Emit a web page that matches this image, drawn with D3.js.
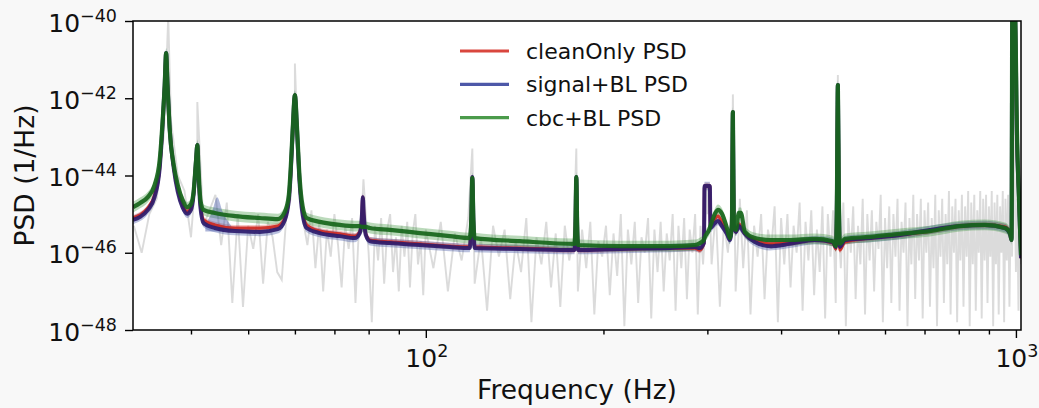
<!DOCTYPE html>
<html>
<head>
<meta charset="utf-8">
<script src="https://cdn.jsdelivr.net/npm/d3@7/dist/d3.min.js"></script>
<style>
  body { margin: 0; background: #f8f8f8; }
  svg { display: block; font-family: "DejaVu Sans", sans-serif; }
</style>
</head>
<body>
<div id="chart"></div>
<script>
// Fitted PSD curves: frequency (Hz) and log10 PSD (1/Hz)
const curveFreq = [
  31.9, 32.8, 33.8, 34.7, 35.4, 35.8, 36.1, 36.3, 36.5, 36.8,
  37.4, 38.0, 38.7, 39.4, 40.0, 40.4, 40.8, 41.0, 41.2, 41.5,
  42.0, 43.9, 47.5, 52.3, 56.1, 57.7, 58.6, 59.0, 59.5, 60.0,
  60.5, 61.0, 61.6, 62.8, 66.1, 71.5, 75.8, 77.3, 77.9, 78.2,
  78.5, 79.1, 80.4, 86.9, 97.7, 109.8, 118.7, 119.4, 119.9, 120.4,
  121.0, 144.3, 178.6, 179.3, 179.9, 180.5, 181.2, 213.3, 259.2, 285.7,
  291.4, 296.0, 296.7, 302.9, 303.6, 307.8, 312.6, 317.6, 323.8, 327.5,
  330.1, 331.4, 332.6, 335.3, 339.2, 341.9, 347.3, 361.1, 382.9, 414.0,
  456.2, 489.6, 495.4, 497.3, 499.2, 501.2, 503.1, 513.1, 565.6, 636.1,
  714.9, 803.7, 886.1, 958.2, 977.0, 983, 986, 996, 1004, 1012,
  1020
];
const cleanPsd = [
  -45.10, -45.02, -44.84, -44.50, -43.81, -42.69, -41.66, -40.88, -41.66, -42.77,
  -43.81, -44.38, -44.76, -44.94, -44.84, -44.50, -43.60, -43.21, -43.99, -44.76,
  -45.15, -45.28, -45.36, -45.36, -45.31, -45.10, -44.63, -43.99, -42.82, -41.92,
  -42.82, -43.99, -44.76, -45.28, -45.44, -45.51, -45.57, -45.46, -45.10, -44.56,
  -45.02, -45.51, -45.67, -45.72, -45.77, -45.83, -45.85, -45.15, -44.04, -45.15,
  -45.85, -45.88, -45.93, -45.28, -44.04, -45.28, -45.93, -45.90, -45.88, -45.88,
  -45.93, -45.75, -44.27, -44.27, -45.28, -45.15, -45.05, -45.20, -45.46, -45.62,
  -45.28, -42.36, -45.28, -45.46, -45.26, -45.31, -45.51, -45.67, -45.77, -45.75,
  -45.67, -45.75, -45.90, -44.63, -41.66, -44.63, -45.93, -45.72, -45.62, -45.54,
  -45.44, -45.31, -45.28, -45.33, -45.49, -45.67, -39.72, -39.72, -43.08, -44.63,
  -46.14
];
const signalPsd = [
  -45.15, -45.07, -44.89, -44.56, -43.81, -42.69, -41.66, -40.83, -41.66, -42.77,
  -43.81, -44.43, -44.82, -44.99, -44.89, -44.50, -43.60, -43.21, -43.99, -44.82,
  -45.23, -45.36, -45.44, -45.46, -45.39, -45.15, -44.63, -43.99, -42.82, -41.92,
  -42.82, -43.99, -44.82, -45.36, -45.49, -45.57, -45.62, -45.49, -45.10, -44.56,
  -45.02, -45.54, -45.70, -45.75, -45.80, -45.85, -45.88, -45.15, -44.04, -45.15,
  -45.88, -45.90, -45.93, -45.28, -44.04, -45.28, -45.93, -45.90, -45.88, -45.85,
  -45.88, -45.75, -44.27, -44.27, -45.36, -45.26, -45.18, -45.31, -45.51, -45.67,
  -45.28, -42.36, -45.28, -45.46, -45.31, -45.36, -45.51, -45.72, -45.83, -45.77,
  -45.67, -45.72, -45.85, -44.63, -41.66, -44.63, -45.85, -45.67, -45.62, -45.54,
  -45.41, -45.31, -45.28, -45.36, -45.51, -45.67, -39.72, -39.72, -43.08, -44.63,
  -46.14
];
const cbcPsd = [
  -44.82, -44.71, -44.56, -44.25, -43.60, -42.61, -41.66, -40.83, -41.66, -42.77,
  -43.73, -44.25, -44.63, -44.82, -44.74, -44.43, -43.60, -43.21, -43.86, -44.63,
  -44.89, -44.97, -45.05, -45.10, -45.13, -44.94, -44.50, -43.86, -42.77, -41.92,
  -42.77, -43.86, -44.63, -45.10, -45.20, -45.28, -45.31, -45.31, -45.33, -45.33,
  -45.33, -45.33, -45.36, -45.41, -45.49, -45.57, -45.62, -45.15, -44.06, -45.15,
  -45.62, -45.70, -45.77, -45.28, -44.04, -45.28, -45.80, -45.83, -45.83, -45.80,
  -45.75, -45.67, -45.62, -45.36, -45.31, -45.05, -44.89, -44.99, -45.36, -45.62,
  -45.28, -42.36, -45.28, -45.41, -44.97, -44.97, -45.46, -45.62, -45.67, -45.67,
  -45.64, -45.70, -45.83, -44.63, -41.66, -44.63, -45.77, -45.64, -45.59, -45.51,
  -45.44, -45.31, -45.28, -45.36, -45.49, -45.67, -39.72, -39.72, -42.82, -44.63,
  -46.06
];
// extra lump in the signal+BL interval near 44 Hz
const signalBump = [[42.3, -45.25], [43.4, -44.95], [44.3, -44.56], [45.3, -44.95], [46.8, -45.30]];

// raw periodogram (grey): sampling grids [start, stop, step] and log10 values
const rawGrid = [[32, 100, 1], [103, 298, 3], [300, 1020, 5]];
const rawLow = [
  -45.3, -46.0, -45.0, -44.6, -42.9, -42.6, -44.0, -44.4, -45.6, -43.5,
  -45.3, -44.9, -44.5, -45.8, -44.7, -47.3, -45.0, -47.4, -45.3, -45.9,
  -45.0, -46.8, -45.2, -45.6, -46.5, -46.7, -45.1, -44.6, -42.2, -44.3,
  -45.2, -45.8, -44.9, -46.4, -45.2, -47.0, -45.4, -46.1, -45.0, -45.8,
  -46.9, -45.3, -45.9, -45.1, -47.3, -45.4, -44.8, -44.9, -46.0, -47.8,
  -45.3, -46.2, -45.1, -46.8, -45.4, -45.0, -46.5, -45.6, -47.0, -45.3,
  -46.1, -45.2, -46.9, -45.5, -45.0, -46.3, -45.7, -47.1, -45.4
];
const rawMid = [
  -46.4, -45.2, -47.0, -45.5, -46.2, -45.1, -46.8, -45.6, -47.5, -45.3,
  -46.1, -45.4, -47.2, -45.7, -46.5, -45.1, -47.8, -45.6, -46.3, -45.2,
  -46.9, -45.5, -47.4, -45.3, -46.2, -45.6, -47.0, -45.4, -46.4, -45.2,
  -47.6, -45.7, -46.1, -45.3, -47.1, -45.5, -46.6, -45.0, -47.9, -45.4,
  -46.3, -45.2, -47.3, -45.6, -46.0, -45.1, -47.7, -45.4, -46.5, -45.2,
  -47.0, -45.5, -46.2, -45.0, -47.5, -45.3, -46.4, -45.1, -47.2, -45.4,
  -46.0, -45.0, -47.6, -45.3, -46.3, -45.1
];
const rawHigh = [
  -45.0, -46.3, -44.9, -47.4, -45.2, -46.0, -44.8, -47.0, -45.0, -46.4,
  -44.9, -47.6, -45.3, -46.1, -45.0, -47.2, -45.4, -45.9, -44.8, -47.8,
  -45.1, -46.3, -45.0, -46.9, -45.3, -46.0, -44.7, -47.5, -45.2, -46.2,
  -44.9, -47.1, -45.4, -46.5, -44.8, -47.7, -45.0, -46.1, -44.9, -47.3,
  -45.2, -46.4, -44.7, -47.9, -45.1, -46.0, -44.8, -47.2, -45.3, -46.3,
  -44.6, -47.6, -45.0, -46.2, -44.9, -47.0, -45.2, -45.9, -44.5, -47.8,
  -45.1, -46.4, -44.8, -47.3, -45.0, -46.1, -44.6, -47.5, -45.2, -46.0,
  -44.7, -47.9, -45.1, -46.3, -44.5, -47.2, -45.0, -46.2, -44.6, -47.7,
  -44.9, -46.0, -44.7, -47.4, -45.1, -46.4, -44.5, -47.9, -44.9, -46.1,
  -44.6, -47.3, -45.0, -46.3, -44.4, -47.6, -44.8, -46.0, -44.6, -47.8,
  -44.9, -46.2, -44.5, -47.4, -44.8, -46.1, -44.4, -47.9, -44.7, -46.3,
  -44.5, -47.5, -44.9, -46.0, -44.4, -47.7, -44.6, -46.2, -44.5, -47.3,
  -44.8, -46.1, -44.4, -47.9, -44.7, -46.3, -44.5, -47.6, -44.8, -46.0,
  -44.4, -47.8, -44.6, -46.2, -44.5, -47.4, -44.7, -46.1, -43.0, -44.0,
  -46.5, -44.6, -47.5, -45.0, -46.3
];
// narrow lines in the raw data [Hz, log10 PSD]
const rawPeaks = [
  [36.6, -39.9], [41.0, -42.1], [60.0, -41.1], [78.4, -44.1], [119.9, -43.3],
  [179.9, -43.3], [299.5, -44.2], [302.0, -44.3], [331.4, -41.9], [340.5, -44.6],
  [499.2, -41.4], [990.5, -39.9]
];

const seriesNames = ["cleanOnly PSD", "signal+BL PSD", "cbc+BL PSD"];
const xMajor = [100, 1000];
const xMinor = [40, 50, 60, 70, 80, 90, 200, 300, 400, 500, 600, 700, 800, 900];
const yTicks = [-48, -46, -44, -42, -40];

// chart specs
const w = 1039, h = 408;
const margins = { top: 21, right: 18, bottom: 78, left: 133 };
const cw = w - margins.left - margins.right;
const ch = h - margins.top - margins.bottom;

const svg = d3.select("#chart").append("svg")
  .attr("width", w)
  .attr("height", h);

svg.append("rect").attr("width", w).attr("height", h).attr("fill", "#f8f8f8");

const x = d3.scaleLog().domain([31.9, 1020]).range([0, cw]);
const y = d3.scaleLinear().domain([-48, -40]).range([ch, 0]);

const g = svg.append("g")
  .attr("transform", "translate(" + margins.left + "," + margins.top + ")");

g.append("rect").attr("width", cw).attr("height", ch).attr("fill", "white");

svg.append("defs").append("clipPath").attr("id", "plotclip")
  .append("rect").attr("width", cw).attr("height", ch);

const plot = g.append("g").attr("clip-path", "url(#plotclip)");

// raw data, merged from the grids and the line list
let raw = [];
[rawLow, rawMid, rawHigh].forEach((vals, k) => {
  const f = d3.range(rawGrid[k][0], rawGrid[k][1] + 0.001, rawGrid[k][2]);
  vals.forEach((v, i) => raw.push([f[i], v]));
});
raw = raw.concat(rawPeaks).sort((a, b) => a[0] - b[0]);

const rawLine = d3.line().x(d => x(d[0])).y(d => y(d[1]));
plot.append("path")
  .attr("d", rawLine(raw))
  .attr("fill", "none")
  .attr("stroke", "#cdcdcd")
  .attr("stroke-opacity", 0.72)
  .attr("stroke-width", 1.9)
  .attr("stroke-linejoin", "miter");

const series = [
  { name: seriesNames[0], vals: cleanPsd, line: "#cf2a22", band: "rgba(214,50,40,0.28)", bw: 0.08, lw: 3.2, legend: "#d9463e" },
  { name: seriesNames[1], vals: signalPsd, line: "#2c1c6c", band: "rgba(55,75,160,0.35)", bw: 0.11, lw: 4, legend: "#4d58a8" },
  { name: seriesNames[2], vals: cbcPsd, line: "#17661b", band: "rgba(60,150,60,0.35)", bw: 0.14, lw: 4.2, legend: "#4b9b4b" }
];

// credible bands
series.forEach(s => {
  const pts = curveFreq.map((f, i) => [f, s.vals[i]]);
  const area = d3.area().curve(d3.curveMonotoneX)
    .x(d => x(d[0]))
    .y0(d => y(d[1] - s.bw))
    .y1(d => y(d[1] + s.bw));
  plot.append("path").attr("d", area(pts)).attr("fill", s.band);
});
plot.append("path")
  .attr("d", d3.area().curve(d3.curveMonotoneX)
    .x(d => x(d[0])).y0(y(-45.45)).y1(d => y(d[1]))(signalBump))
  .attr("fill", "rgba(55,75,160,0.4)");

// median lines
series.forEach(s => {
  const pts = curveFreq.map((f, i) => [f, s.vals[i]]);
  const line = d3.line().curve(d3.curveMonotoneX)
    .x(d => x(d[0])).y(d => y(d[1]));
  plot.append("path")
    .attr("d", line(pts))
    .attr("fill", "none")
    .attr("stroke", s.line)
    .attr("stroke-width", s.lw)
    .attr("stroke-opacity", 0.92)
    .attr("stroke-linejoin", "round");
});

// axes
const tickStyle = sel => {
  sel.select(".domain").remove();
  sel.selectAll("line").attr("stroke", "black").attr("stroke-width", 1.4);
};
g.append("g").attr("transform", "translate(0," + ch + ")")
  .call(d3.axisBottom(x).tickValues(xMinor).tickSize(4.5).tickFormat(""))
  .call(tickStyle);
g.append("g").attr("transform", "translate(0," + ch + ")")
  .call(d3.axisBottom(x).tickValues(xMajor).tickSize(8).tickFormat(""))
  .call(tickStyle);
g.append("g")
  .call(d3.axisLeft(y).tickValues(yTicks).tickSize(8).tickFormat(""))
  .call(tickStyle);

g.append("rect").attr("width", cw).attr("height", ch)
  .attr("fill", "none").attr("stroke", "black").attr("stroke-width", 1.5);

// 10^n labels
const powLabel = (sel, exp) => {
  sel.append("tspan").text("10");
  sel.append("tspan").attr("font-size", "0.7em").attr("dy", -10)
    .text(exp < 0 ? "\u2212" + (-exp) : exp);
};
xMajor.forEach(v => {
  g.append("text")
    .attr("x", x(v) + 1)
    .attr("y", ch + 37)
    .attr("text-anchor", "middle")
    .attr("font-size", 25)
    .attr("fill", "#111")
    .call(powLabel, Math.round(Math.log10(v)));
});
yTicks.forEach(v => {
  g.append("text")
    .attr("x", -16)
    .attr("y", y(v) + 10.5)
    .attr("text-anchor", "end")
    .attr("font-size", 25)
    .attr("fill", "#111")
    .call(powLabel, v);
});

// axis labels
svg.append("text")
  .attr("x", margins.left + cw / 2)
  .attr("y", 399)
  .attr("text-anchor", "middle")
  .attr("font-size", 26.5)
  .attr("fill", "#111")
  .text("Frequency (Hz)");
svg.append("text")
  .attr("transform", "translate(34," + (margins.top + ch / 2) + ") rotate(-90)")
  .attr("text-anchor", "middle")
  .attr("font-size", 26.5)
  .attr("fill", "#111")
  .text("PSD (1/Hz)");

// legend
const legend = g.append("g").attr("transform", "translate(327,30)");
series.forEach((s, i) => {
  const row = legend.append("g").attr("transform", "translate(0," + (i * 33.3) + ")");
  row.append("line")
    .attr("x1", 0).attr("x2", 49)
    .attr("stroke", s.legend).attr("stroke-width", 3.2);
  row.append("text")
    .attr("x", 66).attr("y", 8)
    .attr("font-size", 22)
    .attr("fill", "#111")
    .text(s.name);
});
</script>
</body>
</html>
